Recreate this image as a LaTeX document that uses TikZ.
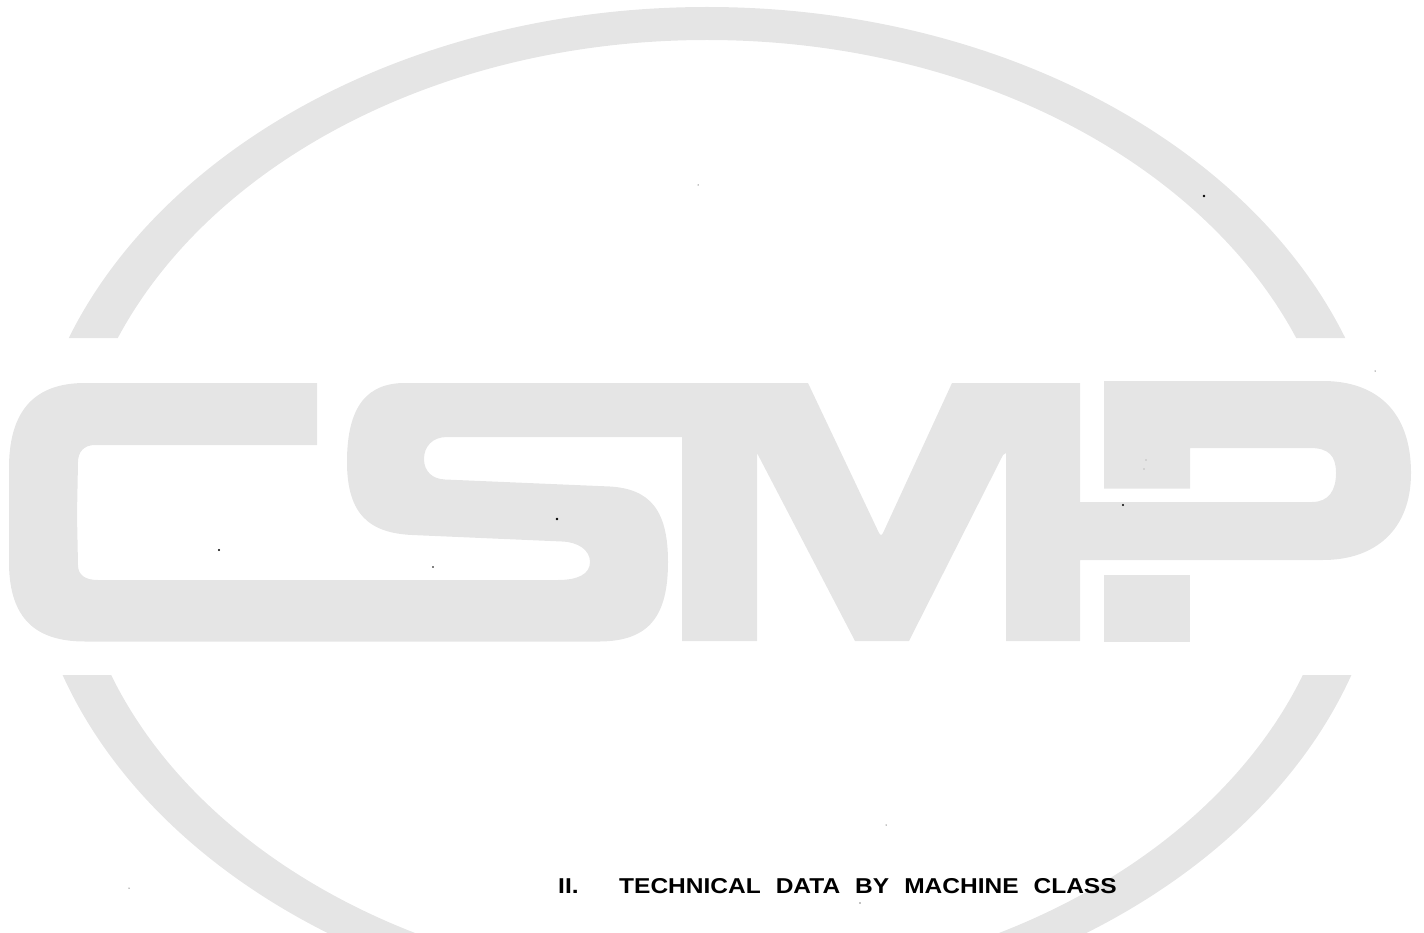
\documentclass[tikz,border=0pt]{standalone}
\usepackage{fontspec}
\setmainfont{Liberation Sans}
\newfontfamily\widefont{Liberation Sans}[FakeStretch=1.14]
\definecolor{logogray}{HTML}{E5E5E5}
\newcommand\titlesetup{\fontsize{21.5}{24}\selectfont\widefont\bfseries}
\tikzset{
  logo/.style={fill=logogray,draw=none},
  titletext/.style={inner sep=0pt,anchor=base west,font=\titlesetup,text=black},
  speck/.style={fill=black,draw=none}
}
\begin{document}
\begin{tikzpicture}[x=1pt,y=-1pt]
\useasboundingbox (0,0) rectangle (1424,933);
% ring, cut by the band of the letters
\begin{scope}
  \clip (0,0) rectangle (1424,338) (0,675) rectangle (1424,933);
  \fill[logo,even odd rule] (707,513) ellipse [x radius=680pt,y radius=506pt]
                            (707,513) ellipse [x radius=634pt,y radius=473pt];
\end{scope}
% letters C S M P as one outline
\fill[logo]
  (317,383) -- (317,445) -- (95,445)
  .. controls (84,445) and (78,452) .. (78,462)
  -- (77,515) -- (78,565)
  .. controls (78,575) and (85,580) .. (98,580)
  -- (558,580)
  .. controls (578,580) and (590,574) .. (590,562)
  .. controls (590,550) and (578,542) .. (562,541.5)
  -- (412,535)
  .. controls (370,533) and (347,515) .. (347,462)
  .. controls (347,405) and (368,383) .. (405,383)
  -- (808,383) -- (879,533)
  .. controls (880.5,535.5) and (881.5,535.5) .. (883,533)
  -- (952,383) -- (1080,383) -- (1080,502) -- (1312,502)
  .. controls (1329,502) and (1336,490) .. (1336,473)
  .. controls (1336,456) and (1329,448) .. (1310,448)
  -- (1190,448) -- (1190,488.5) -- (1104,488.5) -- (1104,381) -- (1323,381)
  .. controls (1375,381) and (1411,410) .. (1411,473)
  .. controls (1411,530) and (1375,560) .. (1323,560)
  -- (1080,560) -- (1080,641) -- (1006,641) -- (1006,453) -- (1003,455)
  -- (909,641) -- (855,641) -- (757,453) -- (757,641) -- (682,641) -- (682,437)
  -- (447,437)
  .. controls (432,437) and (424,447) .. (424,459)
  .. controls (424,471) and (432,479) .. (445,479.5)
  -- (610,486.5)
  .. controls (650,489) and (668,510) .. (668,562)
  .. controls (668,615) and (650,641) .. (600,641.5)
  -- (85,641.5)
  .. controls (35,641.5) and (10,618) .. (9,565)
  -- (9,465)
  .. controls (10,410) and (35,383) .. (85,383)
  -- cycle;
\fill[logo] (1104,575) rectangle (1190,642);
% title
\node[titletext] (num) at (558,893.5) {II.};
\node[titletext] (title) at (619,893.5) {\spaceskip=15pt\relax TECHNICAL DATA BY MACHINE CLASS};
% scan specks
\fill[speck] (698,185) circle (0.5pt);
\fill[speck] (1204,196) circle (1.4pt);
\fill[speck] (1375,371) circle (0.5pt);
\fill[speck] (1146,460) circle (0.4pt);
\fill[speck] (1144,469) circle (0.4pt);
\fill[speck] (1123,505) circle (1.2pt);
\fill[speck] (557,519) circle (1.3pt);
\fill[speck] (433,567) circle (0.8pt);
\fill[speck] (219,550) circle (1.1pt);
\fill[speck] (886,825) circle (0.5pt);
\fill[speck] (860,903) circle (0.6pt);
\fill[speck] (129,888) circle (0.5pt);
\end{tikzpicture}
\end{document}
